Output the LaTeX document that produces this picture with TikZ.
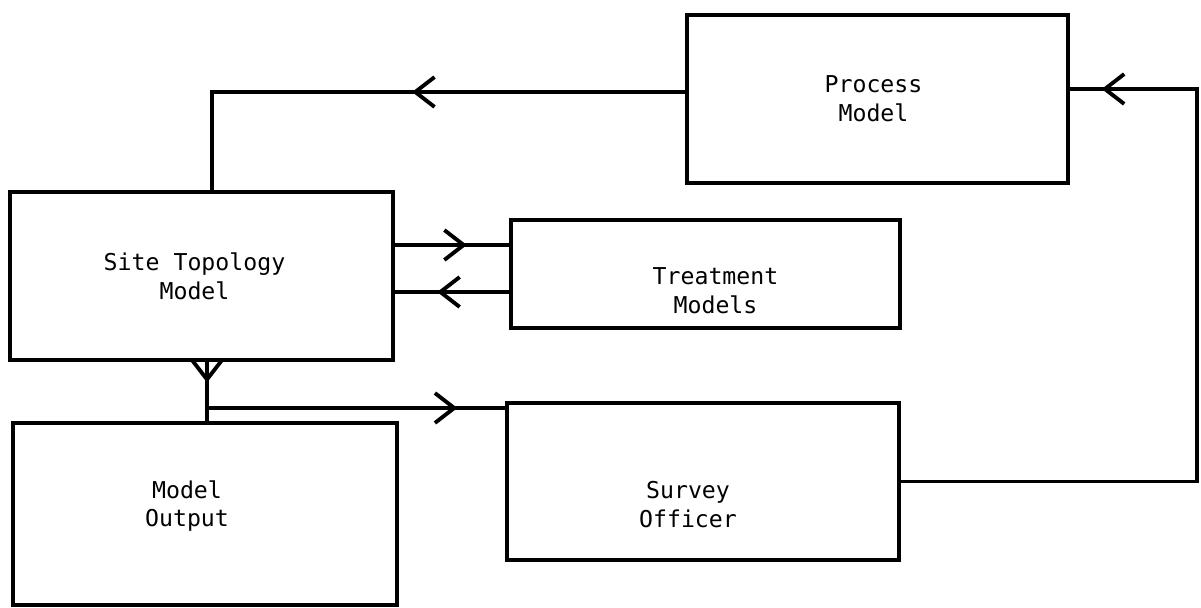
\documentclass[tikz,border=0pt]{standalone}
\usepackage{fontspec}
\setmonofont{DejaVu Sans Mono}
\usetikzlibrary{arrows.meta,decorations.markings,positioning,calc}
\newcommand{\blocktext}{\ttfamily\fontsize{13.2}{16.4}\selectfont}
\tikzset{
    block/.style n args={2}{
        rectangle,
        draw=black,
        line width=2.2pt,
        minimum width=#1,
        minimum height=#2,
        inner sep=0pt,
    },
    link/.style={
        draw=black,
        line width=2.2pt,
    },
    midarrow/.style={
        postaction={decorate,decoration={markings,
            mark=at position #1 with {\arrow{>}}}},
    },
    every label/.style={
        align=center,
        font=\blocktext,
    },
}
\begin{document}
\begin{tikzpicture}[x=0.02cm,y=-0.02cm,>={Straight Barb[length=11pt,width=17pt]}]
    \useasboundingbox (0,0) rectangle (1201,608);
    \node [block={7.62cm}{3.36cm}, label={[xshift=-0.08cm]center:Process\\Model}] (proc) at (877.5,99) {};
    \node [block={7.66cm}{3.36cm}, label={[xshift=-0.14cm]center:Site Topology\\Model}] (site) at (201.5,276) {};
    \node [block={7.78cm}{2.16cm}, label={[xshift=0.2cm,yshift=-0.34cm]center:Treatment\\Models}] (treat) at (705.5,274) {};
    \node [block={7.68cm}{3.64cm}, label={[xshift=-0.36cm,yshift=0.16cm]center:Model\\Output}] (output) at (205,514) {};
    \node [block={7.84cm}{3.14cm}, label={[xshift=-0.3cm,yshift=-0.46cm]center:Survey\\Officer}] (survey) at (703,481.5) {};
    \coordinate (top-turn) at (212,92);
    \coordinate (right-turn) at (1197,89);
    \coordinate (fork) at (207,408);
    \draw [link, midarrow=0.478] (top-turn -| proc.west) -- (top-turn) -- (top-turn |- site.north);
    \draw [link, midarrow=0.961] (survey.east) -| (right-turn) -- (right-turn -| proc.east);
    \draw [link, midarrow=0.63] (site.east |- 0,245) -- (treat.west |- 0,245);
    \draw [link, midarrow=0.63] (treat.west |- 0,292) -- (site.east |- 0,292);
    \draw [link, midarrow=0.35] (fork |- site.south) -- (fork |- output.north);
    \draw [link, midarrow=0.84] (fork) -- (fork -| survey.west);
\end{tikzpicture}
\end{document}
